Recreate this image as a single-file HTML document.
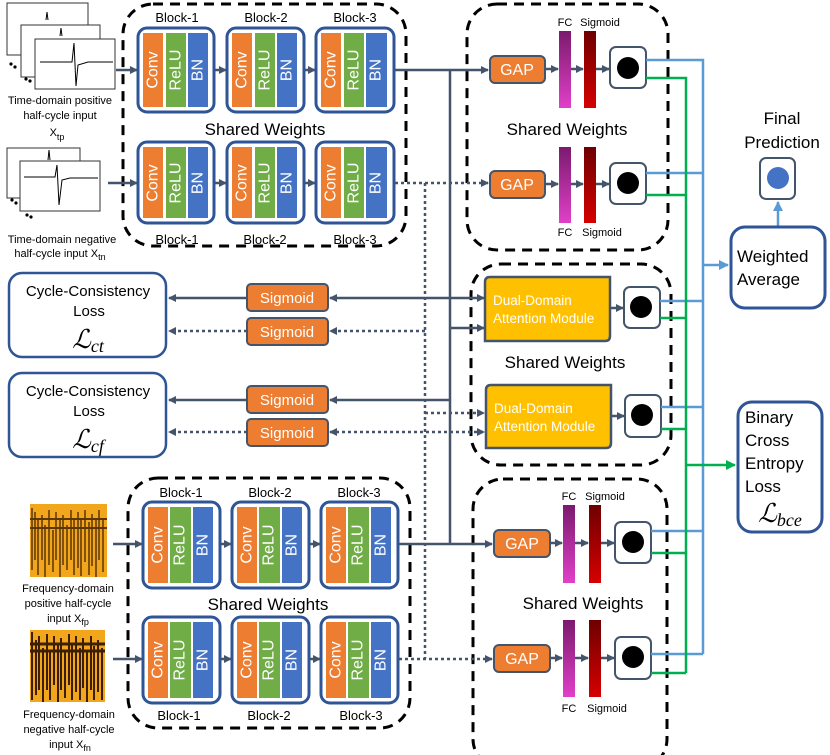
<!DOCTYPE html>
<html><head><meta charset="utf-8"><style>
body{margin:0;background:#fff;}
svg{display:block;font-family:"Liberation Sans",Arial,sans-serif;}
.dash{fill:none;stroke:#000;stroke-width:3;stroke-dasharray:10,7;}
.blk{fill:#fff;stroke:#2f5597;stroke-width:3;}
.st{fill:#fff;font-size:16px;}
.ln{stroke:#44546a;stroke-width:2.5;fill:none;}
.dt{stroke:#44546a;stroke-width:2.5;fill:none;stroke-dasharray:3,3;}
.lb{font-size:13px;fill:#000;}
.sm{font-size:11px;fill:#000;}
.org{fill:#ed7d31;stroke:#44546a;stroke-width:2;}
.cb{fill:#fff;stroke:#44546a;stroke-width:2;}
.bl{stroke:#5b9bd5;stroke-width:2.5;fill:none;}
.gr{stroke:#00b050;stroke-width:2.5;fill:none;}
.wt{fill:#fff;}
</style></head><body>
<svg width="830" height="755" viewBox="0 0 830 755" xmlns="http://www.w3.org/2000/svg">
<defs>
<marker id="a" markerWidth="8" markerHeight="8" refX="7" refY="4" orient="auto" markerUnits="userSpaceOnUse"><path d="M0,0 L8,4 L0,8 z" fill="#44546a"/></marker>
<marker id="ar" markerWidth="8" markerHeight="8" refX="1" refY="4" orient="auto" markerUnits="userSpaceOnUse"><path d="M8,0 L0,4 L8,8 z" fill="#44546a"/></marker>
<marker id="ab" markerWidth="10" markerHeight="10" refX="9" refY="5" orient="auto" markerUnits="userSpaceOnUse"><path d="M0,0 L10,5 L0,10 z" fill="#5b9bd5"/></marker>
<marker id="ag" markerWidth="10" markerHeight="10" refX="9" refY="5" orient="auto" markerUnits="userSpaceOnUse"><path d="M0,0 L10,5 L0,10 z" fill="#00b050"/></marker>
<linearGradient id="fc" x1="0" y1="0" x2="0" y2="1"><stop offset="0" stop-color="#7b1a6e"/><stop offset="1" stop-color="#e040c8"/></linearGradient>
<linearGradient id="sg" x1="0" y1="0" x2="0" y2="1"><stop offset="0" stop-color="#6e0000"/><stop offset="1" stop-color="#d60000"/></linearGradient>
</defs>

<rect class="dash" x="123" y="4" width="283" height="242" rx="30"/>
<rect class="dash" x="128" y="478" width="282" height="250" rx="30"/>
<rect class="dash" x="467" y="4" width="201" height="246" rx="30"/>
<rect class="dash" x="471" y="264" width="200" height="201" rx="30"/>
<rect class="dash" x="473" y="479" width="194" height="290" rx="30"/>

<g fill="#fff" stroke="#333" stroke-width="1">
<rect x="7" y="3" width="81" height="52"/><rect x="21" y="25" width="79" height="52"/><rect x="35" y="39" width="80" height="50"/>
<rect x="7" y="148" width="73" height="50"/><rect x="20" y="161" width="80" height="50"/>
</g>
<g stroke="#000" stroke-width="1" fill="none">
<path d="M40,62 L72,62 L74,43 L76,86 L78,65 L88,62 L113,62"/>
<path d="M24,177 L55,177 L57,165 L59,205 L62,180 L70,178 L98,178"/>
<path d="M46,20 L47,12 L48,20 M60,36 L61,28 L62,36 M48,160 L49,150 L50,160"/>
</g>
<g fill="#000"><circle cx="11" cy="64" r="1.6"/><circle cx="15" cy="67" r="1.6"/><circle cx="26" cy="79" r="1.6"/><circle cx="30" cy="81" r="1.6"/>
<circle cx="12" cy="200" r="1.6"/><circle cx="16" cy="203" r="1.6"/><circle cx="27" cy="215" r="1.6"/><circle cx="31" cy="217" r="1.6"/></g>
<text class="sm" x="60" y="104" text-anchor="middle">Time-domain positive</text>
<text class="sm" x="60" y="119" text-anchor="middle">half-cycle input</text>
<text class="sm" x="57" y="136" text-anchor="middle">X<tspan font-size="9" dy="4">tp</tspan></text>
<text class="sm" x="62" y="243" text-anchor="middle">Time-domain negative</text>
<text class="sm" x="60" y="257" text-anchor="middle">half-cycle input X<tspan font-size="9" dy="3">tn</tspan></text>

<rect x="30" y="504" width="77" height="73" fill="#f2a61c"/>
<g stroke="#3a1a00" stroke-width="1.5" opacity="0.8">
<path d="M32,508 V570 M35,512 V560 M38,520 V575 M42,515 V560 M45,525 V577 M49,510 V565 M53,530 V572 M56,512 V560 M60,520 V577 M63,515 V565 M67,525 V570 M71,510 V560 M74,520 V575 M78,512 V568 M81,518 V576 M85,510 V562 M89,522 V575 M92,514 V566 M96,520 V577 M99,510 V560 M103,518 V572"/>
<path d="M30,519 H107 M30,528 H107" stroke-width="2"/>
</g>
<rect x="30" y="630" width="75" height="72" fill="#f2a61c"/>
<g stroke="#2a1000" stroke-width="2" opacity="0.9">
<path d="M32,632 V700 M36,640 V695 M39,636 V690 M43,648 V702 M47,634 V690 M50,650 V700 M54,636 V685 M58,645 V702 M61,638 V690 M65,650 V698 M69,634 V685 M72,645 V700 M76,636 V692 M80,648 V700 M83,638 V688 M87,650 V702 M91,636 V690 M94,646 V700 M98,640 V692 M102,648 V700"/>
<path d="M30,644 H105 M30,651 H105" stroke-width="3"/>
</g>
<text class="sm" x="68" y="592" text-anchor="middle">Frequency-domain</text>
<text class="sm" x="68" y="607" text-anchor="middle">positive half-cycle</text>
<text class="sm" x="68" y="622" text-anchor="middle">input X<tspan font-size="9" dy="3">fp</tspan></text>
<text class="sm" x="69" y="718" text-anchor="middle">Frequency-domain</text>
<text class="sm" x="69" y="733" text-anchor="middle">negative half-cycle</text>
<text class="sm" x="70" y="748" text-anchor="middle">input X<tspan font-size="9" dy="3">fn</tspan></text>

<g class="lb" text-anchor="middle">
<text x="177" y="22">Block-1</text><text x="266" y="22">Block-2</text><text x="355" y="22">Block-3</text>
<text x="177" y="244">Block-1</text><text x="265" y="244">Block-2</text><text x="355" y="244">Block-3</text>
<text x="181" y="497">Block-1</text><text x="270" y="497">Block-2</text><text x="359" y="497">Block-3</text>
<text x="179" y="720">Block-1</text><text x="269" y="720">Block-2</text><text x="361" y="720">Block-3</text>
</g>
<g font-size="17" text-anchor="middle" fill="#000">
<text x="265" y="135">Shared Weights</text>
<text x="268" y="610">Shared Weights</text>
<text x="567" y="135">Shared Weights</text>
<text x="565" y="368">Shared Weights</text>
<text x="583" y="609">Shared Weights</text>
</g>

<g>
<rect class="blk" x="138" y="28" width="76" height="84" rx="9"/><rect x="143" y="33" width="20" height="74" fill="#ed7d31"/><rect x="166" y="33" width="20" height="74" fill="#70ad47"/><rect x="188" y="33" width="20" height="74" fill="#4472c4"/>
<rect class="blk" x="227" y="28" width="77" height="84" rx="9"/><rect x="232" y="33" width="20" height="74" fill="#ed7d31"/><rect x="255" y="33" width="20" height="74" fill="#70ad47"/><rect x="277" y="33" width="20" height="74" fill="#4472c4"/>
<rect class="blk" x="316" y="28" width="78" height="84" rx="9"/><rect x="321" y="33" width="20" height="74" fill="#ed7d31"/><rect x="344" y="33" width="20" height="74" fill="#70ad47"/><rect x="366" y="33" width="21" height="74" fill="#4472c4"/>
<rect class="blk" x="138" y="142" width="76" height="81" rx="9"/><rect x="143" y="147" width="20" height="71" fill="#ed7d31"/><rect x="166" y="147" width="20" height="71" fill="#70ad47"/><rect x="188" y="147" width="20" height="71" fill="#4472c4"/>
<rect class="blk" x="227" y="142" width="77" height="81" rx="9"/><rect x="232" y="147" width="20" height="71" fill="#ed7d31"/><rect x="255" y="147" width="20" height="71" fill="#70ad47"/><rect x="277" y="147" width="20" height="71" fill="#4472c4"/>
<rect class="blk" x="316" y="142" width="78" height="81" rx="9"/><rect x="321" y="147" width="20" height="71" fill="#ed7d31"/><rect x="344" y="147" width="20" height="71" fill="#70ad47"/><rect x="366" y="147" width="21" height="71" fill="#4472c4"/>
<rect class="blk" x="143" y="502" width="77" height="86" rx="9"/><rect x="148" y="507" width="20" height="76" fill="#ed7d31"/><rect x="170" y="507" width="21" height="76" fill="#70ad47"/><rect x="193" y="507" width="20" height="76" fill="#4472c4"/>
<rect class="blk" x="232" y="502" width="77" height="86" rx="9"/><rect x="237" y="507" width="20" height="76" fill="#ed7d31"/><rect x="259" y="507" width="21" height="76" fill="#70ad47"/><rect x="282" y="507" width="20" height="76" fill="#4472c4"/>
<rect class="blk" x="321" y="502" width="77" height="86" rx="9"/><rect x="326" y="507" width="20" height="76" fill="#ed7d31"/><rect x="348" y="507" width="21" height="76" fill="#70ad47"/><rect x="371" y="507" width="20" height="76" fill="#4472c4"/>
<rect class="blk" x="143" y="617" width="77" height="86" rx="9"/><rect x="148" y="622" width="20" height="76" fill="#ed7d31"/><rect x="170" y="622" width="21" height="76" fill="#70ad47"/><rect x="193" y="622" width="20" height="76" fill="#4472c4"/>
<rect class="blk" x="232" y="617" width="77" height="86" rx="9"/><rect x="237" y="622" width="20" height="76" fill="#ed7d31"/><rect x="259" y="622" width="21" height="76" fill="#70ad47"/><rect x="282" y="622" width="20" height="76" fill="#4472c4"/>
<rect class="blk" x="321" y="617" width="77" height="86" rx="9"/><rect x="326" y="622" width="20" height="76" fill="#ed7d31"/><rect x="348" y="622" width="21" height="76" fill="#70ad47"/><rect x="371" y="622" width="20" height="76" fill="#4472c4"/>
</g>
<g class="st" text-anchor="middle" dominant-baseline="central">
<text transform="translate(153,70) rotate(-90)">Conv</text><text transform="translate(176,70) rotate(-90)">ReLU</text><text transform="translate(198,70) rotate(-90)">BN</text>
<text transform="translate(242,70) rotate(-90)">Conv</text><text transform="translate(265,70) rotate(-90)">ReLU</text><text transform="translate(287,70) rotate(-90)">BN</text>
<text transform="translate(331,70) rotate(-90)">Conv</text><text transform="translate(354,70) rotate(-90)">ReLU</text><text transform="translate(376,70) rotate(-90)">BN</text>
<text transform="translate(153,183) rotate(-90)">Conv</text><text transform="translate(176,183) rotate(-90)">ReLU</text><text transform="translate(198,183) rotate(-90)">BN</text>
<text transform="translate(242,183) rotate(-90)">Conv</text><text transform="translate(265,183) rotate(-90)">ReLU</text><text transform="translate(287,183) rotate(-90)">BN</text>
<text transform="translate(331,183) rotate(-90)">Conv</text><text transform="translate(354,183) rotate(-90)">ReLU</text><text transform="translate(376,183) rotate(-90)">BN</text>
<text transform="translate(158,545) rotate(-90)">Conv</text><text transform="translate(180,545) rotate(-90)">ReLU</text><text transform="translate(203,545) rotate(-90)">BN</text>
<text transform="translate(247,545) rotate(-90)">Conv</text><text transform="translate(269,545) rotate(-90)">ReLU</text><text transform="translate(292,545) rotate(-90)">BN</text>
<text transform="translate(336,545) rotate(-90)">Conv</text><text transform="translate(358,545) rotate(-90)">ReLU</text><text transform="translate(381,545) rotate(-90)">BN</text>
<text transform="translate(158,660) rotate(-90)">Conv</text><text transform="translate(180,660) rotate(-90)">ReLU</text><text transform="translate(203,660) rotate(-90)">BN</text>
<text transform="translate(247,660) rotate(-90)">Conv</text><text transform="translate(269,660) rotate(-90)">ReLU</text><text transform="translate(292,660) rotate(-90)">BN</text>
<text transform="translate(336,660) rotate(-90)">Conv</text><text transform="translate(358,660) rotate(-90)">ReLU</text><text transform="translate(381,660) rotate(-90)">BN</text>
</g>

<g class="ln" marker-end="url(#a)">
<path d="M116,70 H137"/><path d="M215,70 H226"/><path d="M305,70 H315"/>
<path d="M108,183 H137"/><path d="M215,183 H226"/><path d="M305,183 H315"/>
<path d="M113,544 H142"/><path d="M221,544 H231"/><path d="M310,544 H320"/>
<path d="M113,659 H142"/><path d="M221,659 H231"/><path d="M310,659 H320"/>
</g>

<path class="ln" d="M395,70 H488" marker-end="url(#a)"/>
<path class="ln" d="M450,70 V544"/>
<path class="ln" d="M399,544 H492" marker-end="url(#a)"/>
<path class="dt" d="M395,183 H488" marker-end="url(#a)"/>
<path class="dt" d="M425,183 V659"/>
<path class="dt" d="M399,659 H492" marker-end="url(#a)"/>
<path class="ln" d="M330,298 H484" marker-start="url(#ar)" marker-end="url(#a)"/>
<path class="ln" d="M450,328 H484" marker-end="url(#a)"/>
<path class="dt" d="M425,331 H330" marker-end="url(#a)"/>
<path class="ln" d="M450,400 H330" marker-end="url(#a)"/>
<path class="dt" d="M425,413 H484" marker-end="url(#a)"/>
<path class="dt" d="M330,432 H484" marker-start="url(#ar)" marker-end="url(#a)"/>
<path class="ln" d="M247,298 H169" marker-end="url(#a)"/>
<path class="dt" d="M247,331 H169" marker-end="url(#a)"/>
<path class="ln" d="M247,400 H169" marker-end="url(#a)"/>
<path class="dt" d="M247,432 H169" marker-end="url(#a)"/>

<g><rect class="org" x="247" y="284" width="81" height="27" rx="4"/><rect class="org" x="247" y="318" width="81" height="27" rx="4"/>
<rect class="org" x="247" y="386" width="81" height="27" rx="4"/><rect class="org" x="247" y="419" width="81" height="27" rx="4"/></g>
<g class="wt" font-size="15" text-anchor="middle">
<text x="287" y="303">Sigmoid</text><text x="287" y="337">Sigmoid</text><text x="287" y="405">Sigmoid</text><text x="287" y="438">Sigmoid</text></g>

<rect x="9" y="273" width="157" height="84" rx="13" fill="#fff" stroke="#2f5597" stroke-width="2.5"/>
<rect x="9" y="373" width="157" height="84" rx="13" fill="#fff" stroke="#2f5597" stroke-width="2.5"/>
<g font-size="15" text-anchor="middle" fill="#000">
<text x="88" y="296">Cycle-Consistency</text><text x="89" y="316">Loss</text>
<text x="88" y="396">Cycle-Consistency</text><text x="89" y="416">Loss</text></g>
<g font-family="Liberation Serif,serif" font-style="italic" fill="#000" text-anchor="middle">
<text x="88" y="348" font-size="26">ℒ<tspan font-size="18" dy="4">ct</tspan></text>
<text x="88" y="448" font-size="26">ℒ<tspan font-size="18" dy="4">cf</tspan></text></g>

<g>
<rect class="org" x="490" y="56" width="55" height="27" rx="5"/>
<rect class="org" x="490" y="171" width="55" height="27" rx="5"/>
<rect class="org" x="494" y="530" width="56" height="27" rx="5"/>
<rect class="org" x="494" y="645" width="56" height="27" rx="5"/>
</g>
<g class="wt" font-size="16" text-anchor="middle">
<text x="517" y="75">GAP</text><text x="517" y="190">GAP</text><text x="522" y="549">GAP</text><text x="522" y="664">GAP</text></g>
<rect x="559" y="31" width="12" height="77" fill="url(#fc)"/><rect x="584" y="31" width="12" height="77" fill="url(#sg)"/>
<rect x="559" y="147" width="12" height="76" fill="url(#fc)"/><rect x="584" y="147" width="12" height="76" fill="url(#sg)"/>
<rect x="563" y="505" width="12" height="78" fill="url(#fc)"/><rect x="589" y="505" width="12" height="78" fill="url(#sg)"/>
<rect x="563" y="620" width="12" height="77" fill="url(#fc)"/><rect x="589" y="620" width="12" height="77" fill="url(#sg)"/>
<g class="sm" text-anchor="middle">
<text x="565" y="26">FC</text><text x="600" y="26">Sigmoid</text>
<text x="565" y="236">FC</text><text x="602" y="236">Sigmoid</text>
<text x="569" y="500">FC</text><text x="605" y="500">Sigmoid</text>
<text x="569" y="712">FC</text><text x="607" y="712">Sigmoid</text></g>
<g class="ln" marker-end="url(#a)">
<path d="M545,69 H558"/><path d="M571,69 H583"/><path d="M596,69 H609"/>
<path d="M545,184 H558"/><path d="M571,184 H583"/><path d="M596,184 H609"/>
<path d="M550,543 H562"/><path d="M575,543 H588"/><path d="M601,543 H614"/>
<path d="M550,658 H562"/><path d="M575,658 H588"/><path d="M601,658 H614"/>
</g>

<path d="M485,282 Q485,277 490,277 H610 V336 Q610,341 605,341 H485 Z" fill="#ffc000" stroke="#44546a" stroke-width="2.5"/>
<path d="M486,390 Q486,385 491,385 H611 V443 Q611,448 606,448 H486 Z" fill="#ffc000" stroke="#44546a" stroke-width="2.5"/>
<g class="wt" font-size="13.5">
<text x="493" y="305">Dual-Domain</text><text x="493" y="323">Attention Module</text>
<text x="494" y="413">Dual-Domain</text><text x="494" y="431">Attention Module</text></g>
<path class="ln" d="M611,308 H623" marker-end="url(#a)"/>
<path class="ln" d="M612,416 H624" marker-end="url(#a)"/>

<g>
<rect class="cb" x="610" y="47" width="36" height="41" rx="6"/><circle cx="628" cy="68" r="11"/>
<rect class="cb" x="610" y="163" width="36" height="41" rx="6"/><circle cx="628" cy="183" r="11"/>
<rect class="cb" x="624" y="287" width="36" height="41" rx="6"/><circle cx="641" cy="307" r="11"/>
<rect class="cb" x="625" y="395" width="36" height="42" rx="6"/><circle cx="642" cy="415" r="11"/>
<rect class="cb" x="615" y="522" width="36" height="41" rx="6"/><circle cx="633" cy="542" r="11"/>
<rect class="cb" x="615" y="637" width="36" height="42" rx="6"/><circle cx="633" cy="657" r="11"/>
</g>

<path class="bl" d="M646,60 H703 V654"/>
<path class="bl" d="M646,173 H703 M660,301 H703 M661,407 H703 M651,531 H703 M651,654 H703"/>
<path class="bl" d="M703,265 H728" marker-end="url(#ab)"/>
<path class="gr" d="M646,78 H686 V673"/>
<path class="gr" d="M646,195 H686 M660,318 H686 M661,429 H686 M651,553 H686 M651,673 H686"/>
<path class="gr" d="M686,465 H735" marker-end="url(#ag)"/>

<text x="782" y="124" font-size="17" text-anchor="middle">Final</text>
<text x="782" y="148" font-size="17" text-anchor="middle">Prediction</text>
<rect class="cb" x="760" y="158" width="35" height="41" rx="6"/><circle cx="778" cy="178" r="11" fill="#4472c4"/>
<path class="bl" d="M778,227 V202" marker-end="url(#ab)"/>
<rect x="731" y="227" width="94" height="81" rx="14" fill="#fff" stroke="#2f5597" stroke-width="3"/>
<text x="737" y="262" font-size="17">Weighted</text><text x="737" y="285" font-size="17">Average</text>
<rect x="738" y="402" width="84" height="130" rx="14" fill="#fff" stroke="#2f5597" stroke-width="3"/>
<g font-size="17"><text x="745" y="423">Binary</text><text x="745" y="446">Cross</text><text x="745" y="469">Entropy</text><text x="745" y="492">Loss</text></g>
<text x="780" y="522" font-family="Liberation Serif,serif" font-style="italic" font-size="26" text-anchor="middle">ℒ<tspan font-size="18" dy="4">bce</tspan></text>
</svg>
</body></html>
